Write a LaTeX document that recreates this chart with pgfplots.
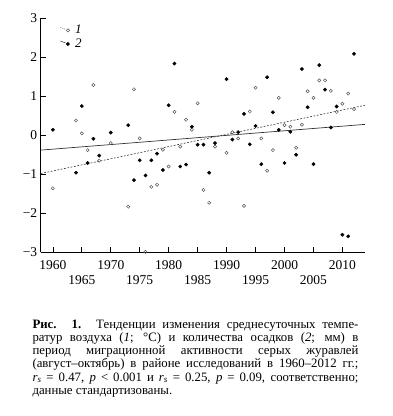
\documentclass[border=0pt]{standalone}
\usepackage{pgfplots}
\pgfplotsset{compat=1.18}
\usepackage{pgfplotstable}
\usepackage{fontspec}
\setmainfont{Liberation Serif}

% 1: air temperature (standardized), open circles
\pgfplotstableread{
year val
1960 -1.36
1964 0.38
1965 0.05
1966 -0.38
1967 1.29
1968 -0.65
1970 -0.20
1973 -1.83
1974 1.18
1975 -0.08
1976 -2.99
1977 -1.32
1978 -1.27
1979 -0.37
1980 -0.80
1981 0.60
1982 -0.29
1983 0.40
1984 0.14
1985 0.82
1986 -1.40
1987 -1.73
1988 -0.29
1990 -0.45
1991 0.08
1992 -0.08
1993 -1.81
1994 0.61
1995 1.22
1996 -0.08
1997 -0.91
1998 -0.38
1999 0.96
2000 0.26
2001 0.22
2002 -0.32
2003 0.27
2004 1.13
2005 0.96
2006 1.41
2007 1.41
2008 1.14
2009 0.60
2010 0.81
2011 1.07
2012 0.67
}\temptable

% 2: precipitation (standardized), filled dots
\pgfplotstableread{
year val
1960 0.14
1964 -0.96
1965 0.75
1966 -0.71
1967 -0.09
1968 -0.52
1970 0.07
1973 0.26
1974 -1.15
1975 -0.64
1976 -1.03
1977 -0.64
1978 -0.47
1979 -0.89
1980 0.77
1981 1.84
1982 -0.80
1983 -0.75
1984 0.22
1985 -0.24
1986 -0.24
1987 -0.96
1988 -0.20
1990 1.44
1991 -0.11
1992 0.08
1993 0.55
1994 -0.23
1995 0.24
1996 -0.74
1997 1.49
1998 0.59
1999 0.14
2000 -0.71
2001 0.09
2002 -0.50
2003 1.70
2004 0.72
2005 -0.74
2006 1.80
2007 1.17
2008 0.20
2009 0.74
2010 -2.55
2011 -2.59
2012 2.09
}\prectable

\definecolor{opengray}{HTML}{555555}
\definecolor{linegray}{HTML}{333333}

\begin{document}
\begin{tikzpicture}
\path[use as bounding box] (0,0) rectangle (392pt,416pt);
\begin{axis}[
  at={(40.7pt,163.7pt)}, anchor=south west,
  scale only axis, width=324.3pt, height=234pt,
  xmin=1957.9, xmax=2013.9, ymin=-3, ymax=3,
  axis x line=bottom, axis y line=left,
  axis line style={-, line width=0.8pt, black},
  tick align=inside, major tick length=5pt,
  tick style={line width=0.7pt, black},
  xtick={1960,1970,1980,1990,2000,2010},
  xticklabels={1960,1970,1980,1990,2000,2010},
  extra x ticks={1965,1975,1985,1995,2005},
  extra x tick labels={1965,1975,1985,1995,2005},
  extra x tick style={tick label style={yshift=-15pt}},
  x tick label style={yshift=-4.5pt},
  ytick={-3,-2,-1,0,1,2,3},
  yticklabels={−3,−2,−1,0,1,2,3},
  tick label style={font=\fontsize{13.5}{14}\selectfont},
  legend style={draw=none, fill=none, at={(0.058,0.975)}, anchor=north west,
    font=\fontsize{13}{13}\selectfont\itshape, row sep=2.5pt, inner sep=0.5pt,
    nodes={inner sep=0.5pt}},
  legend cell align=left,
]
\addplot[only marks, mark=o, mark size=1.6pt, opengray, mark options={line width=0.5pt},
  legend image code/.code={
    \draw[opengray, dash pattern=on 1pt off 1pt, line width=0.5pt] (-1pt,3pt) -- (4pt,1pt);
    \draw[opengray, line width=0.5pt] (6.5pt,0pt) circle (1.6pt);
    \path (13pt,0pt);}
] table[x=year, y=val] {\temptable};
\addlegendentry{1}
\addplot[only marks, mark=*, mark size=1.7pt, black,
  legend image code/.code={
    \draw[linegray, line width=0.5pt] (-1pt,3pt) -- (4pt,1pt);
    \fill[black] (6.5pt,0pt) circle (1.7pt);
    \path (13pt,0pt);}
] table[x=year, y=val] {\prectable};
\addlegendentry{2}
\addplot[linegray, line width=0.6pt, dash pattern=on 1.8pt off 1.6pt, forget plot]
  coordinates {(1957.9,-0.98) (2013.9,0.77)};
\addplot[linegray, line width=0.7pt, forget plot]
  coordinates {(1957.9,-0.38) (2013.9,0.28)};
\end{axis}
\node[anchor=north west, inner sep=0pt, align=left,
  font=\fontsize{12.8}{13.1}\selectfont] at (32.3pt,96pt) {%
\makebox[326pt][s]{\textbf{Рис. 1.} Тенденции изменения среднесуточных темпе-}\\
\makebox[326pt][s]{ратур воздуха (\textit{1}; °C) и количества осадков (\textit{2}; мм) в}\\
\makebox[326pt][s]{период миграционной активности серых журавлей}\\
\makebox[326pt][s]{(август–октябрь) в районе исследований в 1960–2012 гг.;}\\
\makebox[326pt][s]{\textit{r}\textsubscript{\textit{s}} = 0.47, \textit{p} < 0.001 и \textit{r}\textsubscript{\textit{s}} = 0.25, \textit{p} = 0.09, соответственно;}\\
\makebox[326pt][l]{данные стандартизованы.}};
\end{tikzpicture}
\end{document}
